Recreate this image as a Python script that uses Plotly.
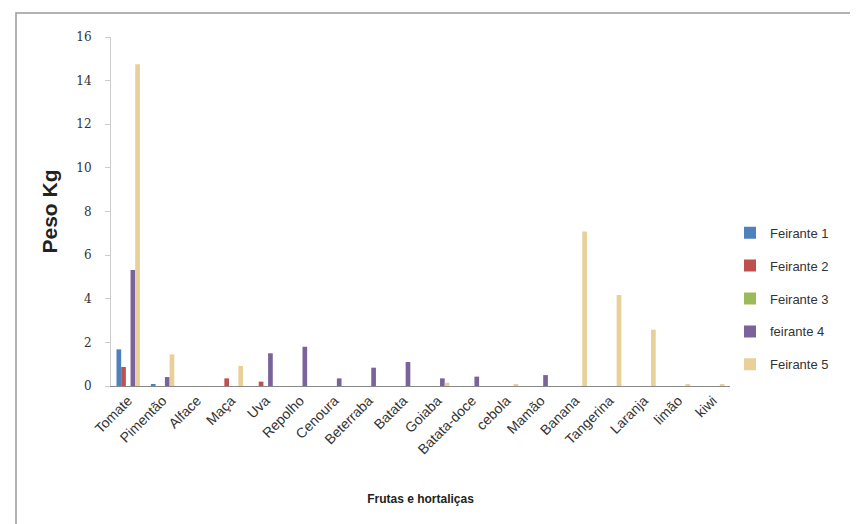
import plotly.graph_objects as go

categories = ["Tomate", "Pimentão", "Alface", "Maça", "Uva", "Repolho", "Cenoura",
              "Beterraba", "Batata", "Goiaba", "Batata-doce", "cebola", "Mamão",
              "Banana", "Tangerina", "Laranja", "limão", "kiwi"]

feirante1 = [1.68, 0.05, 0, 0, 0, 0, 0, 0, 0, 0, 0, 0, 0, 0, 0, 0, 0, 0]
feirante2 = [0.87, 0, 0, 0.35, 0.2, 0, 0, 0, 0, 0, 0, 0, 0, 0, 0, 0, 0, 0]
feirante3 = [0, 0, 0, 0, 0, 0, 0, 0, 0, 0, 0, 0, 0, 0, 0, 0, 0, 0]
feirante4 = [5.32, 0.41, 0, 0, 1.5, 1.8, 0.35, 0.84, 1.1, 0.35, 0.43, 0, 0.5, 0, 0, 0, 0, 0]
feirante5 = [14.75, 1.45, 0, 0.92, 0, 0, 0, 0, 0, 0.15, 0, 0.05, 0, 7.08, 4.17, 2.58, 0.05, 0.05]

series_names = ["Feirante 1", "Feirante 2", "Feirante 3", "feirante 4", "Feirante 5"]
series_values = [feirante1, feirante2, feirante3, feirante4, feirante5]
colors = ["#4F81BD", "#C0504D", "#9BBB59", "#7A639C", "#E9CF98"]

fig = go.Figure()
for i, (name, vals, col) in enumerate(zip(series_names, series_values, colors)):
    fig.add_trace(go.Bar(x=categories, y=vals, name=name, marker_color=col,
                         marker_line_width=0, legendgroup=f"g{i}"))

fig.update_layout(
    width=858, height=524,
    paper_bgcolor="white", plot_bgcolor="white",
    barmode="group", bargap=0.32, bargroupgap=0,
    margin=dict(l=103, r=136, t=29, b=146),
    font=dict(family="Liberation Sans, Arial, sans-serif", color="#222", size=12),
    legend=dict(x=1.0, xanchor="left", y=0.25, yanchor="middle",
                font=dict(size=13, color="#333"), tracegroupgap=13,
                traceorder="grouped", itemwidth=30),
    showlegend=True,
)
fig.update_xaxes(
    type="category", tickangle=-45, showline=True, linecolor="#888", linewidth=1,
    ticks="", tickfont=dict(size=14, color="#333"), showgrid=False,
    title=dict(text="<b>Frutas e hortaliças</b>", font=dict(size=12, color="#222"), standoff=38),
)
fig.update_yaxes(
    range=[0, 16], dtick=2, showline=True, linecolor="#ccc", linewidth=1,
    ticks="outside", ticklen=5, tickcolor="#ccc", showgrid=False,
    ticklabelstandoff=11,
    tickfont=dict(size=12, color="#333", family="DejaVu Serif, serif"),
    title=dict(text="<b>Peso Kg</b>", font=dict(size=21, color="#222"), standoff=12),
)
fig.add_shape(type="rect", xref="paper", yref="paper",
              x0=(8 - 103) / 619, x1=(870 - 103) / 619,
              y0=(378 - 540) / 349, y1=(378 - 5) / 349,
              line=dict(color="#999", width=1.5), fillcolor="rgba(0,0,0,0)")

fig.write_html("out.html")
